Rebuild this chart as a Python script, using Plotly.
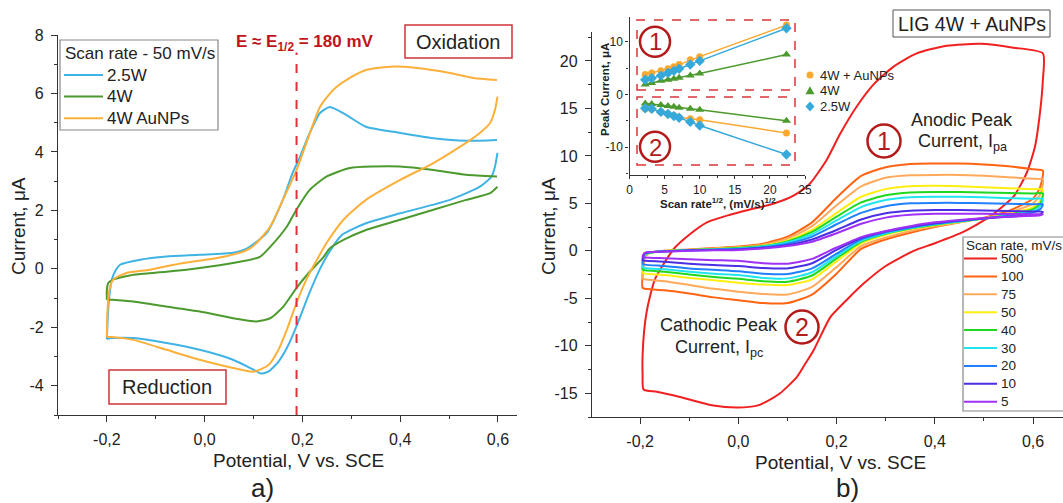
import plotly.graph_objects as go

W, H = 1063, 503
def PX(x): return x / W
def PY(y): return 1 - y / H

# ---------------- Panel a) data: CV at 50 mV/s ----------------
a_names = ["2.5W", "4W", "4W AuNPs"]
a_colors = ["#3fb3e3", "#4c9a2e", "#fcb03a"]

blue_fx = [-0.2, -0.197, -0.19, -0.182, -0.173, -0.132, -0.078, -0.01, 0.058, 0.085, 0.127, 0.16, 0.18, 0.195, 0.215, 0.236, 0.256, 0.29, 0.33, 0.40, 0.468, 0.535, 0.598]
blue_fy = [-2.4, -1.3, -0.37, -0.05, 0.14, 0.31, 0.42, 0.48, 0.55, 0.68, 1.23, 2.36, 3.28, 3.83, 4.65, 5.33, 5.54, 5.26, 4.86, 4.65, 4.47, 4.38, 4.41]
blue_rx = [0.599, 0.594, 0.587, 0.563, 0.502, 0.40, 0.33, 0.28, 0.256, 0.236, 0.215, 0.188, 0.17, 0.15, 0.13, 0.115, 0.10, 0.058, -0.01, -0.078, -0.146, -0.19, -0.2]
blue_ry = [3.97, 3.5, 3.16, 2.81, 2.36, 1.9, 1.56, 1.15, 0.6, 0.0, -0.8, -1.96, -2.65, -3.2, -3.52, -3.58, -3.45, -3.11, -2.77, -2.54, -2.37, -2.37, -2.4]

green_fx = [-0.2, -0.2, -0.197, -0.187, -0.146, -0.078, -0.01, 0.058, 0.113, 0.134, 0.168, 0.188, 0.215, 0.25, 0.297, 0.345, 0.40, 0.468, 0.535, 0.598]
green_fy = [-1.06, -0.7, -0.48, -0.37, -0.2, -0.1, 0.03, 0.2, 0.41, 0.75, 1.44, 2.03, 2.7, 3.16, 3.45, 3.5, 3.5, 3.38, 3.22, 3.16]
green_rx = [0.599, 0.584, 0.535, 0.468, 0.40, 0.33, 0.284, 0.256, 0.243, 0.215, 0.188, 0.161, 0.134, 0.106, 0.058, -0.01, -0.078, -0.146, -0.19, -0.2]
green_ry = [2.81, 2.59, 2.36, 2.02, 1.68, 1.33, 0.99, 0.7, 0.4, -0.1, -0.65, -1.29, -1.69, -1.8, -1.69, -1.46, -1.29, -1.12, -1.06, -1.06]

orange_fx = [-0.2, -0.199, -0.195, -0.187, -0.16, -0.112, -0.044, 0.025, 0.072, 0.093, 0.106, 0.134, 0.16, 0.188, 0.208, 0.236, 0.263, 0.297, 0.33, 0.386, 0.434, 0.502, 0.55, 0.598]
orange_fy = [-2.33, -1.5, -0.72, -0.37, -0.14, -0.03, 0.2, 0.37, 0.55, 0.7, 0.88, 1.44, 2.36, 3.38, 4.3, 5.54, 6.12, 6.53, 6.8, 6.92, 6.87, 6.7, 6.53, 6.46]
orange_rx = [0.599, 0.594, 0.584, 0.563, 0.522, 0.468, 0.40, 0.33, 0.284, 0.25, 0.236, 0.21, 0.188, 0.17, 0.15, 0.13, 0.10, 0.058, -0.01, -0.078, -0.146, -0.19, -0.2]
orange_ry = [5.89, 5.44, 4.99, 4.65, 4.17, 3.62, 3.04, 2.36, 1.68, 0.9, 0.5, -0.3, -1.16, -2.0, -2.8, -3.3, -3.52, -3.39, -3.11, -2.77, -2.43, -2.33, -2.33]

e_half_line = 0.188

# ---------------- Panel b) data: CV at various scan rates ----------------
b_rates = ["500", "100", "75", "50", "40", "30", "20", "10", "5"]
b_colors = ["#f02020", "#ff6412", "#ffaa5a", "#ffee10", "#20d820", "#20e4ee", "#2080ff", "#4a2ee6", "#a030f5"]

red_x = [-0.193, -0.195, -0.195, -0.192, -0.187, -0.18, -0.17, -0.15, -0.13, -0.1, -0.064, -0.017, 0.02, 0.06, 0.09, 0.115, 0.146, 0.18, 0.207, 0.241, 0.275, 0.316, 0.363, 0.424, 0.492, 0.56, 0.62,
         0.62, 0.614, 0.604, 0.587, 0.56, 0.512, 0.458, 0.40, 0.357, 0.30, 0.255, 0.22, 0.187, 0.17, 0.153, 0.135, 0.119, 0.10, 0.085, 0.06, 0.038, 0.0, -0.051, -0.119, -0.166, -0.193]
red_y = [-14.6, -13.0, -11.0, -8.5, -6.5, -4.8, -3.0, -1.2, 0.3, 1.7, 3.0, 3.8, 4.3, 4.8, 5.3, 5.9, 7.1, 9.6, 12.3, 15.2, 17.5, 19.4, 20.8, 21.6, 21.8, 21.4, 20.8,
         18.0, 14.5, 11.0, 8.2, 5.7, 3.6, 2.0, 0.8, 0.0, -1.6, -3.45, -5.2, -7.0, -8.7, -10.5, -12.0, -13.3, -14.3, -15.0, -15.8, -16.3, -16.5, -16.3, -15.4, -14.85, -14.6]

# shared potential grids for the smaller loops (forward, then reverse)
f_x = [-0.195, -0.193, -0.19, -0.18, -0.15, -0.1, -0.05, 0.0, 0.05, 0.1, 0.15, 0.2, 0.25, 0.3, 0.35, 0.4, 0.45, 0.5, 0.55, 0.6, 0.62]
r_x = [0.615, 0.6, 0.55, 0.5, 0.45, 0.4, 0.35, 0.3, 0.25, 0.2, 0.15, 0.1, 0.05, 0.0, -0.05, -0.1, -0.15, -0.19, -0.195]

fwd_100 = [-3.9, -1.5, -0.6, -0.2, 0.0, 0.15, 0.3, 0.45, 0.75, 1.5, 3.0, 5.6, 7.9, 8.8, 9.15, 9.2, 9.2, 9.1, 8.9, 8.6, 8.45]
fwd_75 = [-2.9, -1.1, -0.5, -0.2, 0.0, 0.12, 0.25, 0.4, 0.65, 1.3, 2.6, 4.8, 6.8, 7.7, 7.95, 8.0, 8.0, 7.9, 7.75, 7.6, 7.5]
fwd_50 = [-2.3, -0.9, -0.45, -0.2, -0.02, 0.1, 0.2, 0.33, 0.55, 1.1, 2.2, 4.0, 5.7, 6.5, 6.8, 6.85, 6.8, 6.7, 6.6, 6.5, 6.47]
fwd_40 = [-1.95, -0.8, -0.4, -0.2, -0.03, 0.08, 0.18, 0.3, 0.5, 1.0, 2.0, 3.6, 5.1, 5.85, 6.15, 6.2, 6.2, 6.15, 6.1, 6.05, 6.05]
fwd_30 = [-1.7, -0.7, -0.35, -0.18, -0.04, 0.06, 0.15, 0.25, 0.45, 0.9, 1.75, 3.2, 4.6, 5.35, 5.65, 5.7, 5.7, 5.65, 5.55, 5.5, 5.45]
fwd_20 = [-1.35, -0.6, -0.3, -0.15, -0.05, 0.05, 0.12, 0.2, 0.38, 0.75, 1.5, 2.8, 4.0, 4.7, 5.0, 5.05, 5.05, 5.0, 4.95, 4.9, 4.9]
fwd_10 = [-1.0, -0.45, -0.25, -0.13, -0.06, 0.03, 0.1, 0.15, 0.32, 0.6, 1.2, 2.2, 3.3, 3.95, 4.22, 4.3, 4.3, 4.25, 4.2, 4.15, 4.1]
fwd_5 = [-0.65, -0.35, -0.2, -0.12, -0.08, 0.0, 0.05, 0.1, 0.25, 0.5, 0.95, 1.85, 2.85, 3.5, 3.8, 3.9, 3.92, 3.9, 3.88, 3.86, 3.85]

rev_100 = [6.8, 5.5, 4.2, 3.5, 3.0, 2.5, 1.9, 1.2, 0.2, -2.4, -4.6, -5.5, -5.5, -5.2, -4.9, -4.5, -4.15, -4.0, -3.9]
rev_75 = [6.0, 5.0, 4.0, 3.45, 3.0, 2.6, 2.1, 1.4, 0.5, -1.7, -3.8, -4.6, -4.55, -4.3, -4.0, -3.6, -3.2, -3.0, -2.9]
rev_50 = [5.3, 4.6, 3.85, 3.4, 3.05, 2.7, 2.3, 1.7, 0.8, -1.1, -3.0, -3.6, -3.55, -3.35, -3.1, -2.85, -2.55, -2.4, -2.3]
rev_40 = [5.0, 4.4, 3.8, 3.4, 3.1, 2.75, 2.35, 1.8, 0.95, -0.8, -2.6, -3.25, -3.2, -2.95, -2.75, -2.5, -2.2, -2.05, -1.95]
rev_30 = [4.7, 4.2, 3.75, 3.4, 3.1, 2.8, 2.4, 1.85, 1.05, -0.55, -2.25, -2.9, -2.85, -2.55, -2.4, -2.2, -1.95, -1.8, -1.7]
rev_20 = [4.4, 4.05, 3.7, 3.4, 3.15, 2.85, 2.45, 1.95, 1.2, -0.3, -1.85, -2.45, -2.4, -2.15, -2.0, -1.85, -1.6, -1.45, -1.35]
rev_10 = [3.85, 3.75, 3.6, 3.4, 3.2, 2.9, 2.55, 2.05, 1.35, 0.1, -1.3, -1.85, -1.8, -1.6, -1.5, -1.35, -1.15, -1.05, -1.0]
rev_5 = [3.75, 3.7, 3.6, 3.45, 3.25, 3.0, 2.6, 2.1, 1.45, 0.35, -0.85, -1.35, -1.3, -1.05, -0.98, -0.88, -0.78, -0.7, -0.65]

# ---------------- Inset data: peak currents vs sqrt(scan rate) ----------------
inset_names = ["4W + AuNPs", "4W", "2.5W"]
inset_colors = ["#fba830", "#4c9a2e", "#36a9da"]
inset_symbols = ["circle", "triangle-up", "diamond"]
sqrt_rate = [2.24, 3.16, 4.47, 5.48, 6.32, 7.07, 8.66, 10.0, 22.36]
ipa_auNPs = [3.8, 4.1, 4.5, 4.9, 5.3, 5.7, 6.6, 7.2, 13.2]
ipa_4w = [1.9, 2.2, 2.6, 2.8, 3.0, 3.2, 3.6, 4.0, 7.6]
ipa_25w = [2.8, 3.1, 3.6, 4.1, 4.5, 4.9, 5.7, 6.4, 12.6]
ipc_auNPs = [-2.7, -2.8, -3.3, -3.7, -4.0, -4.3, -4.6, -4.8, -7.3]
ipc_4w = [-1.7, -1.8, -2.0, -2.2, -2.3, -2.5, -2.7, -2.9, -5.0]
ipc_25w = [-2.6, -2.7, -3.3, -3.7, -4.1, -4.4, -5.2, -5.9, -11.4]

x_ticks = [-0.2, 0.0, 0.2, 0.4, 0.6]
x_ticktext = ["-0,2", "0,0", "0,2", "0,4", "0,6"]
ya_ticks = [-4, -2, 0, 2, 4, 6, 8]
yb_ticks = [-15, -10, -5, 0, 5, 10, 15, 20]
inset_xticks = [0, 5, 10, 15, 20, 25]
inset_yticks = [-10, 0, 10]

# ---------------- figure ----------------
fig = go.Figure()
FONT = "Liberation Sans, Arial, sans-serif"
RED = "#c0141c"
CIRC = "#b31b1b"

a_loops = [(blue_fx, blue_fy, blue_rx, blue_ry), (green_fx, green_fy, green_rx, green_ry),
           (orange_fx, orange_fy, orange_rx, orange_ry)]
for name, col, (fx, fy, rx, ry) in zip(a_names, a_colors, a_loops):
    fig.add_trace(go.Scatter(x=fx + [None] + rx, y=fy + [None] + ry, mode="lines", name=name,
                             line=dict(color=col, width=2, shape="spline", smoothing=0.6),
                             xaxis="x", yaxis="y", showlegend=False, connectgaps=False))

fwd_all = [fwd_100, fwd_75, fwd_50, fwd_40, fwd_30, fwd_20, fwd_10, fwd_5]
rev_all = [rev_100, rev_75, rev_50, rev_40, rev_30, rev_20, rev_10, rev_5]
fig.add_trace(go.Scatter(x=red_x, y=red_y, mode="lines", name=b_rates[0],
                         line=dict(color=b_colors[0], width=2, shape="spline", smoothing=0.6),
                         xaxis="x2", yaxis="y2", showlegend=False))
for name, col, fy, ry in zip(b_rates[1:], b_colors[1:], fwd_all, rev_all):
    fig.add_trace(go.Scatter(x=f_x + r_x, y=fy + ry, mode="lines", name=name,
                             line=dict(color=col, width=2, shape="spline", smoothing=0.6),
                             xaxis="x2", yaxis="y2", showlegend=False))

inset_sets = [(ipa_auNPs, ipc_auNPs), (ipa_4w, ipc_4w), (ipa_25w, ipc_25w)]
for name, col, sym, (ipa, ipc) in zip(inset_names, inset_colors, inset_symbols, inset_sets):
    fig.add_trace(go.Scatter(x=sqrt_rate + [None] + sqrt_rate, y=ipa + [None] + ipc, mode="lines",
                             line=dict(color=col, width=1.5), showlegend=False,
                             xaxis="x3", yaxis="y3", connectgaps=False, hoverinfo="skip"))
    fig.add_trace(go.Scatter(x=sqrt_rate + sqrt_rate, y=ipa + ipc, mode="markers", name=name,
                             marker=dict(color=col, symbol=sym, size=8 if sym != "circle" else 7),
                             xaxis="x3", yaxis="y3", showlegend=False))

axis_common = dict(showline=True, linecolor="#333", linewidth=1.3, ticks="outside", ticklen=6,
                   tickwidth=1.2, tickcolor="#333", showgrid=False, zeroline=False,
                   tickfont=dict(family=FONT, size=16, color="#222"), tickmode="array")
minor_c = dict(ticks="outside", ticklen=3, tickcolor="#333", tickmode="linear")

fig.update_layout(
    width=W, height=H, margin=dict(l=0, r=0, t=0, b=0, autoexpand=False),
    paper_bgcolor="white", plot_bgcolor="rgba(0,0,0,0)", showlegend=False,
    font=dict(family=FONT, color="#222"),
    xaxis=dict(axis_common, domain=[PX(58), PX(517)], range=[-0.3, 0.639], anchor="y",
               tickvals=x_ticks, ticktext=x_ticktext, ticklabelstandoff=4,
               minor=dict(minor_c, tick0=-0.3, dtick=0.1)),
    yaxis=dict(axis_common, domain=[PY(415), PY(35)], range=[-5, 8], anchor="x",
               tickvals=ya_ticks, ticktext=[str(v) for v in ya_ticks], ticklabelstandoff=4,
               minor=dict(minor_c, tick0=-5, dtick=1)),
    xaxis2=dict(axis_common, domain=[PX(592), 1.0], range=[-0.298, 0.661], anchor="y2",
                tickvals=x_ticks, ticktext=x_ticktext, ticklabelstandoff=4,
                minor=dict(minor_c, tick0=-0.3, dtick=0.1)),
    yaxis2=dict(axis_common, domain=[PY(417), PY(32)], range=[-17.5, 23.05], anchor="x2",
                tickvals=yb_ticks, ticktext=[str(v) for v in yb_ticks], ticklabelstandoff=4,
                minor=dict(minor_c, tick0=-17.5, dtick=2.5)),
    xaxis3=dict(axis_common, domain=[PX(629.5), PX(805)], range=[0, 25], anchor="y3",
                tickvals=inset_xticks, ticktext=[str(v) for v in inset_xticks], ticklen=3,
                tickfont=dict(family=FONT, size=12, color="#222"),
                minor=dict(minor_c, tick0=0, dtick=2.5, ticklen=2)),
    yaxis3=dict(axis_common, domain=[PY(175), PY(16.7)], range=[-15.3, 14.8], anchor="x3",
                tickvals=inset_yticks, ticktext=[str(v) for v in inset_yticks], ticklen=3,
                tickfont=dict(family=FONT, size=12, color="#222"),
                minor=dict(minor_c, tick0=-15, dtick=5, ticklen=2)),
)

shapes = [
    dict(type="line", xref="x", yref="y", x0=e_half_line, x1=e_half_line, y0=-5, y1=7.4,
         line=dict(color="#e0303a", width=2, dash="dash")),
    dict(type="rect", xref="paper", yref="paper", x0=PX(405), x1=PX(512), y0=PY(58), y1=PY(25),
         line=dict(color="#d2323a", width=1.5)),
    dict(type="rect", xref="paper", yref="paper", x0=PX(109), x1=PX(226), y0=PY(404), y1=PY(370),
         line=dict(color="#d2323a", width=1.5)),
    dict(type="rect", xref="paper", yref="paper", x0=PX(893), x1=PX(1050), y0=PY(37), y1=PY(10),
         line=dict(color="#555", width=1)),
    dict(type="rect", xref="paper", yref="paper", x0=PX(637), x1=PX(795), y0=PY(90), y1=PY(20),
         line=dict(color="#d9343a", width=1.5, dash="dash")),
    dict(type="rect", xref="paper", yref="paper", x0=PX(637), x1=PX(795), y0=PY(165), y1=PY(97),
         line=dict(color="#d9343a", width=1.5, dash="dash")),
]
for cx, cy, r in [(655, 41.7, 15), (655, 146.7, 15), (884, 141, 16.5), (802, 327, 16.5)]:
    shapes.append(dict(type="circle", xref="paper", yref="paper", x0=PX(cx - r), x1=PX(cx + r),
                       y0=PY(cy + r), y1=PY(cy - r), line=dict(color=CIRC, width=2.5)))

def ann(text, x, y, size, color="#222", bold=False, angle=0, xanchor="center"):
    if bold:
        text = "<b>" + text + "</b>"
    return dict(text=text, x=PX(x), y=PY(y), xref="paper", yref="paper", showarrow=False,
                font=dict(family=FONT, size=size, color=color), textangle=angle,
                xanchor=xanchor, yanchor="middle")

annotations = [
    ann("E ≈ E<sub>1/2</sub> = 180 mV", 305, 43, 17, color=RED, bold=True),
    ann("Oxidation", 458, 42, 20),
    ann("Reduction", 167, 387, 20),
    ann("LIG 4W + AuNPs", 971.5, 24, 19.5),
    ann("Anodic Peak", 962, 120, 18),
    ann("Current, I<sub>pa</sub>", 962, 143, 18),
    ann("Cathodic Peak", 719, 325, 18),
    ann("Current, I<sub>pc</sub>", 719, 348, 18),
    ann("a)", 262, 488, 26),
    ann("b)", 847, 488, 26),
    ann("Potential, V vs. SCE", 298, 460, 19),
    ann("Potential, V vs. SCE", 840, 462, 19),
    ann("Current, μA", 19, 226, 19, angle=-90),
    ann("Current, μA", 549, 226, 19, angle=-90),
    ann("Scan rate<sup>1/2</sup>, (mV/s)<sup>1/2</sup>", 718, 203, 11.5, bold=True),
    ann("Peak Current, μA", 605, 90, 11.5, bold=True, angle=-90),
    ann("1", 655, 42, 24, color=CIRC),
    ann("2", 655, 147, 24, color=CIRC),
    ann("1", 884, 141, 25, color=CIRC),
    ann("2", 802, 327, 25, color=CIRC),
]

# ---- legend a) (drawn by hand: box, title, line samples, names) ----
shapes.append(dict(type="rect", xref="paper", yref="paper", x0=PX(60), x1=PX(218), y0=PY(130), y1=PY(40),
                   line=dict(color="#888", width=1.2), fillcolor="white", layer="above"))
annotations.append(ann("Scan rate - 50 mV/s", 63, 53, 17, xanchor="left"))
for i, (name, col) in enumerate(zip(a_names, a_colors)):
    yy = 75 + i * 21.6
    shapes.append(dict(type="line", xref="paper", yref="paper", x0=PX(64), x1=PX(103), y0=PY(yy), y1=PY(yy),
                       line=dict(color=col, width=2)))
    annotations.append(ann(name, 105, yy, 17, xanchor="left"))

# ---- legend b) ----
shapes.append(dict(type="rect", xref="paper", yref="paper", x0=PX(963), x1=PX(1075), y0=PY(411), y1=PY(237),
                   line=dict(color="#888", width=1.2), fillcolor="white", layer="above"))
annotations.append(ann("Scan rate, mV/s", 964, 245, 13.5, xanchor="left"))
for i, (name, col) in enumerate(zip(b_rates, b_colors)):
    yy = 258.5 + i * 17.9
    shapes.append(dict(type="line", xref="paper", yref="paper", x0=PX(964), x1=PX(997), y0=PY(yy), y1=PY(yy),
                       line=dict(color=col, width=2)))
    annotations.append(ann(name, 999, yy, 13.5, xanchor="left"))

# ---- inset legend (marker samples) ----
for i, (name, col, sym) in enumerate(zip(inset_names, inset_colors, inset_symbols)):
    yy = 75 + i * 15.8
    cx = 810
    if sym == "circle":
        shapes.append(dict(type="circle", xref="paper", yref="paper", x0=PX(cx - 3.5), x1=PX(cx + 3.5),
                           y0=PY(yy + 3.5), y1=PY(yy - 3.5), fillcolor=col, line=dict(color=col, width=0)))
    elif sym == "triangle-up":
        path = "M {} {} L {} {} L {} {} Z".format(PX(cx - 4.5), PY(yy + 3.5), PX(cx + 4.5), PY(yy + 3.5), PX(cx), PY(yy - 4.5))
        shapes.append(dict(type="path", xref="paper", yref="paper", path=path, fillcolor=col, line=dict(color=col, width=0)))
    else:
        path = "M {} {} L {} {} L {} {} L {} {} Z".format(PX(cx), PY(yy - 5), PX(cx + 4.5), PY(yy), PX(cx), PY(yy + 5), PX(cx - 4.5), PY(yy))
        shapes.append(dict(type="path", xref="paper", yref="paper", path=path, fillcolor=col, line=dict(color=col, width=0)))
    annotations.append(ann(name, 818, yy, 13, xanchor="left"))

fig.update_layout(shapes=shapes, annotations=annotations)
fig.write_html("out.html")
